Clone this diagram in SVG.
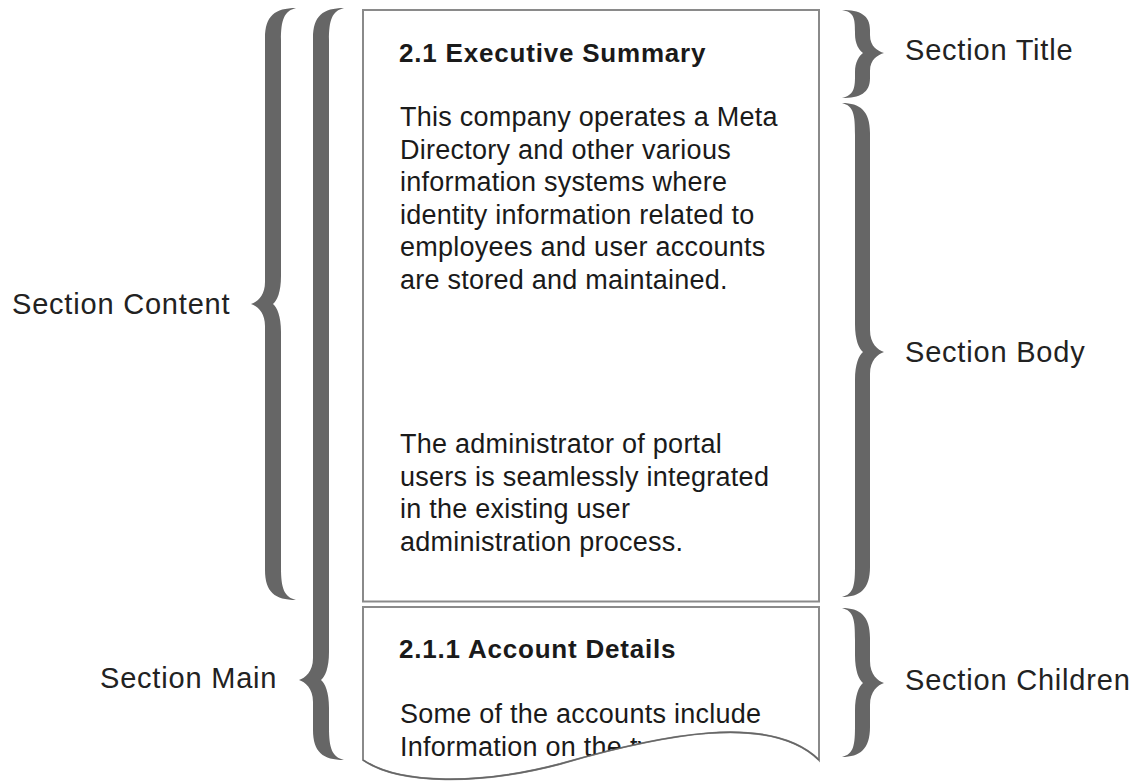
<svg xmlns="http://www.w3.org/2000/svg" width="1145" height="783" viewBox="0 0 1145 783">
  <style>
    .box { fill: #ffffff; stroke: #8a8a8a; stroke-width: 2; }
    .brace { fill: #666666; stroke: none; }
    .label { font-family: "Liberation Sans", Arial, sans-serif; font-size: 29px; letter-spacing: 0.8px; fill: #222222; }
    .head { font-family: "Liberation Sans", Arial, sans-serif; font-size: 26px; font-weight: bold; letter-spacing: 0.8px; fill: #1a1a1a; }
    .body { font-family: "Liberation Sans", Arial, sans-serif; font-size: 27px; letter-spacing: 0.25px; fill: #1a1a1a; }
  </style>
  <defs>
    <clipPath id="childClip">
      <path d="M 363,607 L 819,607 L 819,760 C 770,712 660,735 560,764 C 480,785 400,785 363,760 Z"/>
    </clipPath>
  </defs>
  <rect width="1145" height="783" fill="#ffffff"/>

  <g id="section-box">
    <rect class="box" x="363" y="10" width="456" height="591.5"/>
    <text class="head" x="399" y="62">2.1 Executive Summary</text>
    <text class="body" x="400" y="126">This company operates a Meta</text>
    <text class="body" x="400" y="158.5">Directory and other various</text>
    <text class="body" x="400" y="191">information systems where</text>
    <text class="body" x="400" y="223.5">identity information related to</text>
    <text class="body" x="400" y="256">employees and user accounts</text>
    <text class="body" x="400" y="288.5">are stored and maintained.</text>
    <text class="body" x="400" y="453">The administrator of portal</text>
    <text class="body" x="400" y="485.5">users is seamlessly integrated</text>
    <text class="body" x="400" y="518">in the existing user</text>
    <text class="body" x="400" y="550.5">administration process.</text>
  </g>

  <g id="children-box">
    <path class="box" d="M 363,607 L 819,607 L 819,760 C 770,712 660,735 560,764 C 480,785 400,785 363,760 Z"/>
    <text class="head" x="399" y="658">2.1.1 Account Details</text>
    <text class="body" x="400" y="723">Some of the accounts include</text>
    <g clip-path="url(#childClip)">
      <text class="body" x="400" y="755.5">Information on the type</text>
    </g>
    <path d="M 819,760 C 770,712 660,735 560,764 C 480,785 400,785 363,760" fill="none" stroke="#666666" stroke-width="1.5"/>
  </g>

  <g id="connectors">
    <path id="brace-content" class="brace" d="M 296,8 C 275,8 265,16 265,38 L 265,282 C 265,296 257,302 251,304 C 257,306 265,312 265,326 L 265,570 C 265,592 275,600 296,600 C 284,597 281,588 281,568 L 281,332 C 281,316 277,307 273,304 C 277,301 281,292 281,276 L 281,40 C 281,20 284,11 296,8 Z"/>
    <path id="brace-main" class="brace" d="M 344,8 C 323,8 313,16 313,38 L 313,658 C 313,672 305,678 299,680 C 305,682 313,688 313,702 L 313,730 C 313,752 323,760 344,760 C 332,757 329,748 329,728 L 329,708 C 329,692 325,683 321,680 C 325,677 329,668 329,652 L 329,40 C 329,20 332,11 344,8 Z"/>
    <path id="brace-title" class="brace" d="M 842,10 C 860,10 870,15 870,30 L 870,35 C 870,47 878,51 884,53 C 878,55 870,59 870,71 L 870,78 C 870,93 860,98 842,98 C 854,95 855,88 855,76 L 855,72 C 855,62 859,56 863,53 C 859,50 855,44 855,34 L 855,32 C 855,18 854,12 842,10 Z"/>
    <path id="brace-body" class="brace" d="M 842,103 C 860,103 870,111 870,133 L 870,330 C 870,344 878,350 884,352 C 878,354 870,360 870,374 L 870,567 C 870,589 860,597 842,597 C 854,594 855,585 855,565 L 855,380 C 855,364 859,355 863,352 C 859,349 855,340 855,324 L 855,135 C 855,115 854,106 842,103 Z"/>
    <path id="brace-children" class="brace" d="M 842,608 C 860,608 870,616 870,638 L 870,661 C 870,675 878,681 884,683 C 878,685 870,691 870,705 L 870,727 C 870,749 860,757 842,757 C 854,754 855,745 855,725 L 855,711 C 855,695 859,686 863,683 C 859,680 855,671 855,655 L 855,640 C 855,620 854,611 842,608 Z"/>
  </g>

  <g id="label-content"><text class="label" x="12" y="314">Section Content</text></g>
  <g id="label-main"><text class="label" x="100" y="688">Section Main</text></g>
  <g id="label-title"><text class="label" x="905" y="60">Section Title</text></g>
  <g id="label-body"><text class="label" x="905" y="362">Section Body</text></g>
  <g id="label-children"><text class="label" x="905" y="690">Section Children</text></g>
</svg>
